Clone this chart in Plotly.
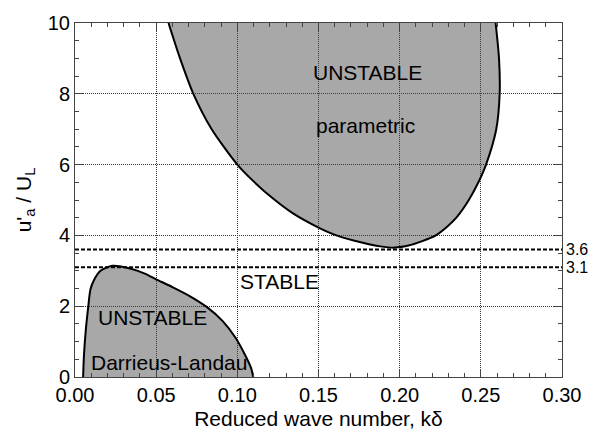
import plotly.graph_objects as go

# Parametric instability boundary (k*delta, u'_a/U_L)
para_k = [0.0576, 0.0647, 0.0729, 0.0842, 0.1000, 0.1097, 0.1220, 0.1343, 0.1500, 0.1610,
          0.1773, 0.1880, 0.1970, 0.2060, 0.2135, 0.2223, 0.2294, 0.2349, 0.2426, 0.2485,
          0.2532, 0.2595, 0.2616, 0.2612, 0.2591]
para_u = [10.0, 9.0, 8.0, 7.0, 6.0, 5.54, 5.04, 4.62, 4.22, 4.0,
          3.79, 3.69, 3.655, 3.72, 3.83, 4.0, 4.25, 4.5, 5.0, 5.5,
          6.0, 7.0, 8.0, 9.0, 10.0]

# Darrieus-Landau instability boundary
dl_k = [0.0050, 0.0055, 0.0066, 0.0081, 0.0095, 0.0115, 0.0157, 0.0230, 0.0350, 0.0430,
        0.0500, 0.0600, 0.0709, 0.0811, 0.0910, 0.0990, 0.1050, 0.1085, 0.1098]
dl_u = [0.0, 0.6, 1.3, 1.96, 2.47, 2.72, 3.0, 3.14, 3.05, 2.92,
        2.76, 2.54, 2.28, 1.98, 1.58, 1.1, 0.6, 0.25, 0.0]

thresholds = [3.6, 3.1]
threshold_labels = ["3.6", "3.1"]

labels = ["UNSTABLE", "parametric", "STABLE", "UNSTABLE", "Darrieus-Landau"]
label_k = [0.180, 0.179, 0.126, 0.048, 0.058]
label_u = [8.6, 7.1, 2.69, 1.68, 0.41]

FONT = "Liberation Sans, Arial, Helvetica, sans-serif"
FILL = "rgba(70,70,70,0.47)"

fig = go.Figure()
fig.add_trace(go.Scatter(x=para_k, y=para_u, mode="lines", fill="toself",
                         fillcolor=FILL, line=dict(color="black", width=2, shape="spline", smoothing=0.7),
                         hoverinfo="skip", showlegend=False))
fig.add_trace(go.Scatter(x=dl_k, y=dl_u, mode="lines", fill="toself",
                         fillcolor=FILL, line=dict(color="black", width=2, shape="spline", smoothing=0.7),
                         hoverinfo="skip", showlegend=False))

for v, lab in zip(thresholds, threshold_labels):
    fig.add_hline(y=v, line=dict(color="black", width=2, dash="4px,2px"))
    fig.add_annotation(x=1.0, xref="paper", y=v, yref="y", text=lab, showarrow=False,
                       xanchor="left", xshift=2, font=dict(family=FONT, size=16, color="black"))

for t, xk, yu in zip(labels, label_k, label_u):
    fig.add_annotation(x=xk, y=yu, text=t, showarrow=False,
                       font=dict(family=FONT, size=21, color="black"))

axis_common = dict(
    showline=True, linecolor="#444", linewidth=1, mirror="ticks",
    ticks="inside", ticklen=8, tickcolor="#444", tickwidth=1,
    showgrid=True, gridcolor="#333", gridwidth=1, griddash="1px,1px",
    zeroline=False, tickfont=dict(family=FONT, size=20, color="black"),
)

fig.update_xaxes(range=[0, 0.3], dtick=0.05, tickformat=".2f",
                 minor=dict(dtick=0.01, ticks="inside", ticklen=4, tickcolor="#444", showgrid=False),
                 title=dict(text="Reduced wave number, kδ", font=dict(family=FONT, size=21, color="black"),
                            standoff=6),
                 **axis_common)
fig.update_yaxes(range=[0, 10], dtick=2,
                 minor=dict(dtick=0.5, ticks="inside", ticklen=4, tickcolor="#444", showgrid=False),
                 title=dict(text="u'<sub>a</sub> / U<sub>L</sub>", font=dict(family=FONT, size=21, color="black"),
                            standoff=10),
                 **axis_common)

fig.update_layout(width=593, height=439, margin=dict(l=75, r=30, t=21, b=58),
                  plot_bgcolor="white", paper_bgcolor="white",
                  font=dict(family=FONT, color="black"))

fig.write_html("out.html")
